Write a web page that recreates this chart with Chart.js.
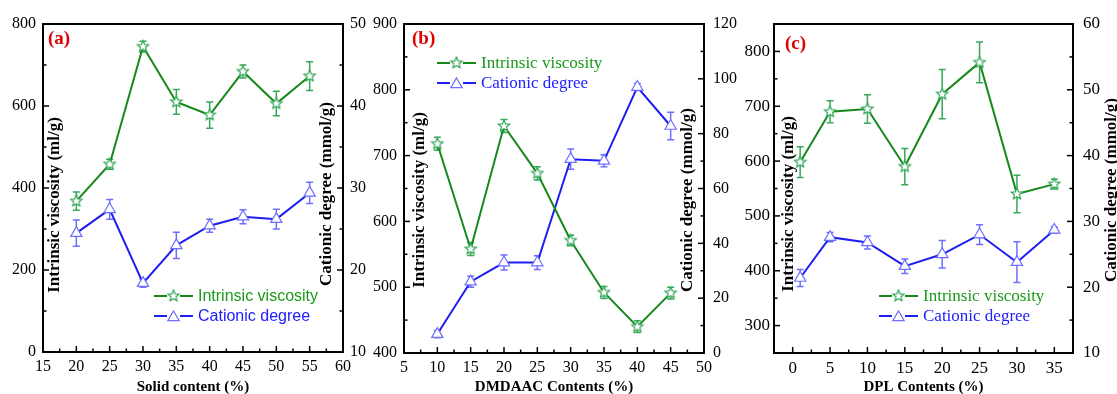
<!DOCTYPE html>
<html>
<head>
<meta charset="utf-8">
<script src="https://cdn.jsdelivr.net/npm/chart.js@4/dist/chart.umd.min.js"></script>
<style>
  body { margin: 0; background: #fff; width: 1117px; height: 394px; overflow: hidden; position: relative; }
  canvas { position: absolute; top: 0; }
</style>
</head>
<body>
<canvas id="panelA" style="left:0px" width="368" height="394"></canvas>
<canvas id="panelB" style="left:366px" width="374" height="394"></canvas>
<canvas id="panelC" style="left:740px" width="377" height="394"></canvas>
<script>
// Panel (a) - solid content
const solidContent = [20, 25, 30, 35, 40, 45, 50, 55];
const viscosityA = [368, 458, 745, 610, 578, 684, 606, 673];
const viscosityAErr = [22, 12, 13, 30, 32, 16, 30, 35];
const cationicA = [24.5, 27.4, 18.4, 23.0, 25.4, 26.5, 26.2, 29.4];
const cationicAErr = [1.6, 1.2, 0.5, 1.6, 0.8, 0.85, 1.2, 1.3];

// Panel (b) - DMDAAC contents
const dmdaacContent = [10, 15, 20, 25, 30, 35, 40, 45];
const viscosityB = [718, 558, 745, 673, 571, 492, 440, 491];
const viscosityBErr = [10, 10, 10, 10, 8, 9, 9, 9];
const cationicB = [6.9, 26.0, 33.0, 33.0, 70.7, 70.1, 97.0, 82.8];
const cationicBErr = [1.3, 2, 2.7, 2.5, 3.7, 2.2, 1.3, 5];

// Panel (c) - DPL contents
const dplContent = [1, 5, 10, 15, 20, 25, 30, 35];
const viscosityC = [598, 690, 695, 590, 722, 780, 540, 558];
const viscosityCErr = [28, 20, 26, 33, 45, 37, 34, 9];
const cationicC = [21.4, 27.6, 26.8, 23.2, 25.0, 28.0, 23.8, 28.7];
const cationicCErr = [1.3, 0.7, 1, 1.1, 2.1, 1.5, 3.1, 0.5];

// tick labels
const xTicksA = [15, 20, 25, 30, 35, 40, 45, 50, 55, 60];
const leftTicksA = [0, 200, 400, 600, 800];
const rightTicksA = [10, 20, 30, 40, 50];
const xTicksB = [5, 10, 15, 20, 25, 30, 35, 40, 45, 50];
const leftTicksB = [400, 500, 600, 700, 800, 900];
const rightTicksB = [0, 20, 40, 60, 80, 100, 120];
const xTicksC = [0, 5, 10, 15, 20, 25, 30, 35];
const leftTicksC = [300, 400, 500, 600, 700, 800];
const rightTicksC = [10, 20, 30, 40, 50, 60];

const seriesNames = ['Intrinsic viscosity', 'Cationic degree'];

const GREEN_LINE = '#16891a';
const GREEN_MARK = '#35a85a';
const BLUE_LINE = '#1e1ef2';
const BLUE_MARK = '#6e6eff';
const SERIF = '"Liberation Serif", "Times New Roman", serif';
const SANS = '"Liberation Sans", Arial, sans-serif';

// hollow five point star used as point style
function makeStar(r) {
    const c = document.createElement('canvas');
    const size = Math.ceil(r * 2 + 4);
    c.width = size; c.height = size;
    const g = c.getContext('2d');
    g.translate(size / 2, size / 2);
    g.beginPath();
    for (let i = 0; i < 10; i++) {
        const rad = i % 2 === 0 ? r : r * 0.45;
        const a = -Math.PI / 2 + i * Math.PI / 5;
        g.lineTo(rad * Math.cos(a), rad * Math.sin(a));
    }
    g.closePath();
    g.fillStyle = '#ffffff';
    g.fill();
    g.lineWidth = 1.2;
    g.strokeStyle = GREEN_MARK;
    g.stroke();
    return c;
}
const starImg = makeStar(6);

function drawTriangle(ctx, x, y, r) {
    ctx.beginPath();
    ctx.moveTo(x, y - r);
    ctx.lineTo(x + r * 0.95, y + r * 0.6);
    ctx.lineTo(x - r * 0.95, y + r * 0.6);
    ctx.closePath();
    ctx.fillStyle = '#ffffff';
    ctx.fill();
    ctx.lineWidth = 1.2;
    ctx.strokeStyle = BLUE_MARK;
    ctx.stroke();
}

const errorBars = {
    id: 'errorBars',
    beforeDatasetsDraw(chart) {
        const ctx = chart.ctx;
        chart.data.datasets.forEach(ds => {
            const xs = chart.scales.x;
            const ys = chart.scales[ds.yAxisID];
            ctx.save();
            ctx.strokeStyle = ds.errColor;
            ctx.lineWidth = 1.5;
            ds.data.forEach((p, j) => {
                const x = xs.getPixelForValue(p.x);
                const y0 = ys.getPixelForValue(p.y - ds.errors[j]);
                const y1 = ys.getPixelForValue(p.y + ds.errors[j]);
                ctx.beginPath();
                ctx.moveTo(x, y0); ctx.lineTo(x, y1);
                ctx.moveTo(x - 3.5, y0); ctx.lineTo(x + 3.5, y0);
                ctx.moveTo(x - 3.5, y1); ctx.lineTo(x + 3.5, y1);
                ctx.stroke();
            });
            ctx.restore();
        });
    }
};

// frame with inward major/minor ticks
function minorsOf(ticks, min, max) {
    const step = ticks[1] - ticks[0];
    const out = [];
    for (let v = ticks[0] - step / 2; v <= max + 1e-9; v += step) {
        if (v >= min - 1e-9) out.push(v);
    }
    return out;
}

const frameTicks = {
    id: 'frameTicks',
    afterDraw(chart, args, opts) {
        const { ctx, chartArea: a } = chart;
        const sx = chart.scales.x, sl = chart.scales.yL, sr = chart.scales.yR;
        ctx.save();
        ctx.strokeStyle = '#000';
        ctx.lineWidth = 1.5;
        const tick = (x0, y0, x1, y1) => { ctx.beginPath(); ctx.moveTo(x0, y0); ctx.lineTo(x1, y1); ctx.stroke(); };
        opts.x.forEach(v => { const x = sx.getPixelForValue(v); tick(x, a.bottom, x, a.bottom - 6); });
        minorsOf(opts.x, sx.min, sx.max).forEach(v => { const x = sx.getPixelForValue(v); tick(x, a.bottom, x, a.bottom - 3.5); });
        opts.left.forEach(v => { const y = sl.getPixelForValue(v); tick(a.left, y, a.left + 6, y); });
        minorsOf(opts.left, sl.min, sl.max).forEach(v => { const y = sl.getPixelForValue(v); tick(a.left, y, a.left + 3.5, y); });
        opts.right.forEach(v => { const y = sr.getPixelForValue(v); tick(a.right, y, a.right - 6, y); });
        minorsOf(opts.right, sr.min, sr.max).forEach(v => { const y = sr.getPixelForValue(v); tick(a.right, y, a.right - 3.5, y); });
        ctx.lineWidth = 2;
        ctx.strokeRect(a.left, a.top, a.right - a.left, a.bottom - a.top);
        ctx.restore();
    }
};

const annotations = {
    id: 'annotations',
    afterDraw(chart, args, o) {
        const { ctx, chartArea: a } = chart;
        ctx.save();
        // panel label
        ctx.font = 'bold 19px ' + SERIF;
        ctx.fillStyle = '#e00000';
        ctx.textAlign = 'left';
        ctx.textBaseline = 'middle';
        ctx.fillText(o.label, a.left + o.labelDx, o.labelY);

        // x title
        ctx.font = 'bold 15px ' + SERIF;
        ctx.fillStyle = '#000';
        ctx.textAlign = 'center';
        ctx.fillText(o.xTitle, (a.left + a.right) / 2, 387);

        // y titles, rotated
        ctx.font = 'bold 17px ' + SERIF;
        const vText = (text, x, y) => {
            ctx.save();
            ctx.translate(x, y);
            ctx.rotate(-Math.PI / 2);
            ctx.fillText(text, 0, 0);
            ctx.restore();
        };
        vText('Intrinsic viscosity (ml/g)', a.left + o.leftTitleDx, o.leftTitleY);
        vText('Cationic degree (mmol/g)', a.right + o.rightTitleDx, o.rightTitleY);

        // legend
        const lx = a.left + o.legendDx;
        ctx.font = o.legendFont;
        ctx.textAlign = 'left';
        [[GREEN_LINE, '#1a9a1a'], [BLUE_LINE, '#2020ff']].forEach((c, i) => {
            const y = o.legendY[i];
            ctx.strokeStyle = c[0];
            ctx.lineWidth = 2;
            ctx.beginPath();
            ctx.moveTo(lx, y); ctx.lineTo(lx + 13, y);
            ctx.moveTo(lx + 26, y); ctx.lineTo(lx + 39, y);
            ctx.stroke();
            if (i === 0) {
                ctx.drawImage(starImg, lx + 19.5 - starImg.width / 2, y - starImg.height / 2);
            } else {
                drawTriangle(ctx, lx + 19.5, y + 1, 6);
            }
            ctx.fillStyle = c[1];
            ctx.fillText(seriesNames[i], lx + 44, y + 1);
        });
        ctx.restore();
    }
};

function fixedTicks(list) {
    return scale => { scale.ticks = list.map(v => ({ value: v })); };
}

function makePanel(id, p) {
    const tickFont = { family: SERIF, size: p.tickSize };
    return new Chart(document.getElementById(id), {
        type: 'line',
        data: {
            datasets: [
                {
                    label: seriesNames[0],
                    yAxisID: 'yL',
                    data: p.x.map((v, i) => ({ x: v, y: p.visc[i] })),
                    errors: p.viscErr,
                    errColor: GREEN_MARK,
                    borderColor: GREEN_LINE,
                    borderWidth: 2,
                    pointStyle: starImg,
                    pointRadius: 6,
                    tension: 0
                },
                {
                    label: seriesNames[1],
                    yAxisID: 'yR',
                    data: p.x.map((v, i) => ({ x: v, y: p.cat[i] })),
                    errors: p.catErr,
                    errColor: BLUE_MARK,
                    borderColor: BLUE_LINE,
                    borderWidth: 2,
                    pointStyle: 'triangle',
                    pointRadius: 6.5,
                    pointBorderWidth: 1.2,
                    pointBorderColor: BLUE_MARK,
                    pointBackgroundColor: '#ffffff',
                    tension: 0
                }
            ]
        },
        options: {
            responsive: false,
            animation: false,
            events: [],
            layout: { padding: { top: 24, left: 0, right: 0, bottom: 0 } },
            plugins: {
                legend: { display: false },
                tooltip: { enabled: false },
                frameTicks: { x: p.xTicks, left: p.leftTicks, right: p.rightTicks },
                annotations: p.notes
            },
            scales: {
                x: {
                    type: 'linear', min: p.xRange[0], max: p.xRange[1],
                    afterBuildTicks: fixedTicks(p.xTicks),
                    afterFit: s => { s.height = p.bottomH; },
                    grid: { display: false, drawTicks: false },
                    border: { display: false },
                    ticks: { font: tickFont, color: '#000', padding: 5, maxRotation: 0, autoSkip: false }
                },
                yL: {
                    type: 'linear', position: 'left', min: p.leftRange[0], max: p.leftRange[1],
                    afterBuildTicks: fixedTicks(p.leftTicks),
                    afterFit: s => { s.width = p.leftW; },
                    grid: { display: false, drawTicks: false },
                    border: { display: false },
                    ticks: { font: tickFont, color: '#000', padding: p.leftPad }
                },
                yR: {
                    type: 'linear', position: 'right', min: p.rightRange[0], max: p.rightRange[1],
                    afterBuildTicks: fixedTicks(p.rightTicks),
                    afterFit: s => { s.width = p.rightW; },
                    grid: { display: false, drawTicks: false },
                    border: { display: false },
                    ticks: { font: tickFont, color: '#000', padding: p.rightPad }
                }
            }
        },
        plugins: [errorBars, frameTicks, annotations]
    });
}

makePanel('panelA', {
    x: solidContent, visc: viscosityA, viscErr: viscosityAErr, cat: cationicA, catErr: cationicAErr,
    xTicks: xTicksA, leftTicks: leftTicksA, rightTicks: rightTicksA,
    xRange: [15, 60], leftRange: [0, 800], rightRange: [10, 50],
    leftW: 43, rightW: 25, bottomH: 42, leftPad: 7, rightPad: 7, tickSize: 16,
    notes: {
        label: '(a)', labelDx: 5, labelY: 39, xTitle: 'Solid content (%)',
        leftTitleDx: 12, leftTitleY: 205, rightTitleDx: -16, rightTitleY: 194,
        legendDx: 111, legendY: [296, 316], legendFont: '16px ' + SANS
    }
});

makePanel('panelB', {
    x: dmdaacContent, visc: viscosityB, viscErr: viscosityBErr, cat: cationicB, catErr: cationicBErr,
    xTicks: xTicksB, leftTicks: leftTicksB, rightTicks: rightTicksB,
    xRange: [5, 50], leftRange: [400, 900], rightRange: [0, 120],
    leftW: 38, rightW: 36, bottomH: 41, leftPad: 7, rightPad: 9, tickSize: 16,
    notes: {
        label: '(b)', labelDx: 8, labelY: 39, xTitle: 'DMDAAC Contents (%)',
        leftTitleDx: 16, leftTitleY: 200, rightTitleDx: -16, rightTitleY: 200,
        legendDx: 33, legendY: [63, 83], legendFont: '17px ' + SERIF
    }
});

makePanel('panelC', {
    x: dplContent, visc: viscosityC, viscErr: viscosityCErr, cat: cationicC, catErr: cationicCErr,
    xTicks: xTicksC, leftTicks: leftTicksC, rightTicks: rightTicksC,
    xRange: [-2.5, 37.5], leftRange: [250, 850], rightRange: [10, 60],
    leftW: 34, rightW: 44, bottomH: 41, leftPad: 4, rightPad: 10, tickSize: 17,
    notes: {
        label: '(c)', labelDx: 11, labelY: 44, xTitle: 'DPL Contents (%)',
        leftTitleDx: 15, leftTitleY: 204, rightTitleDx: 39, rightTitleY: 190,
        legendDx: 105, legendY: [296, 316], legendFont: '17px ' + SERIF
    }
});
</script>
</body>
</html>
